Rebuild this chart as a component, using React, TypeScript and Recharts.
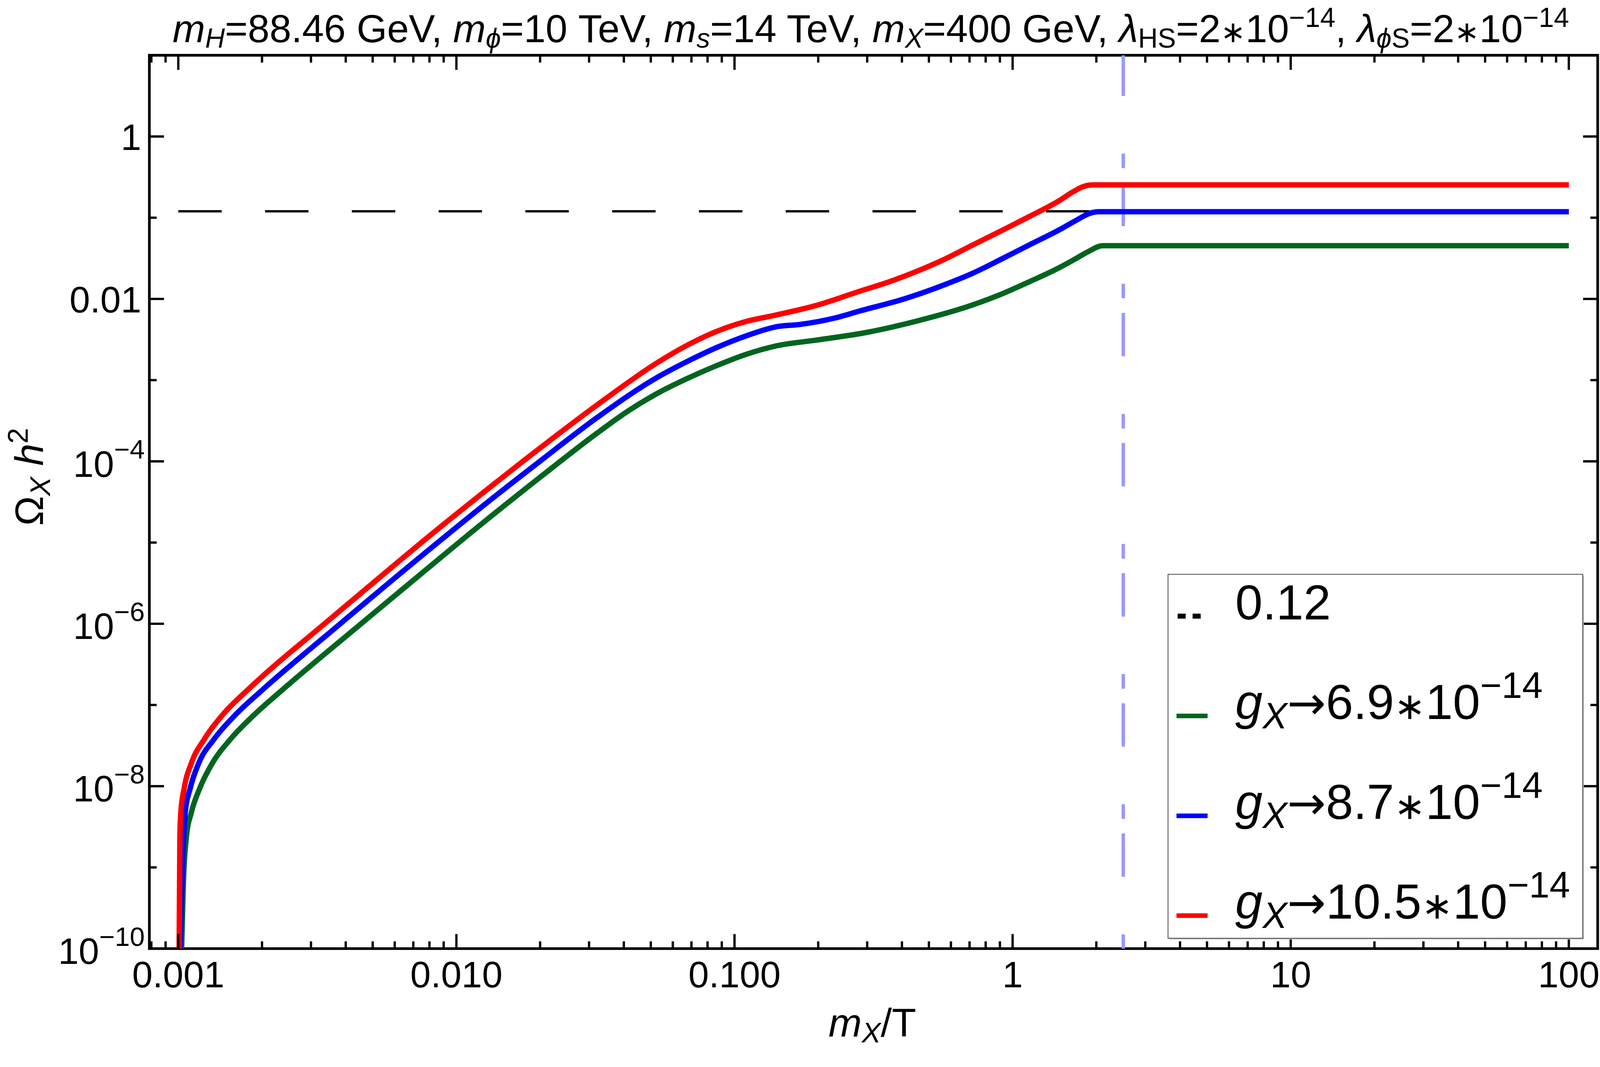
import React from 'react';
import { LineChart, Line, XAxis, YAxis, ReferenceArea, Legend } from 'recharts';

const FONT = '"Liberation Sans", Arial, Helvetica, sans-serif';
const SYMBOL_FONT = '"DejaVu Sans", sans-serif';

const W = 4167;
const H = 2732;
const PLOT = { left: 389, right: 4161, top: 144, bottom: 2471 };

// axes
const xDomain = [0.000787, 127];
const yDomain = [1e-10, 10];
const xMajor = [0.001, 0.01, 0.1, 1, 10, 100];
const xMajorLabels = ['0.001', '0.010', '0.100', '1', '10', '100'];
const xMinor = [
  0.0008, 0.0009,
  0.002, 0.003, 0.004, 0.005, 0.006, 0.007, 0.008, 0.009,
  0.02, 0.03, 0.04, 0.05, 0.06, 0.07, 0.08, 0.09,
  0.2, 0.3, 0.4, 0.5, 0.6, 0.7, 0.8, 0.9,
  2, 3, 4, 5, 6, 7, 8, 9,
  20, 30, 40, 50, 60, 70, 80, 90,
];
const yMajor = [1e-10, 1e-8, 1e-6, 1e-4, 0.01, 1];
const yMajorBase = ['10', '10', '10', '10', '0.01', '1'];
const yMajorExp = ['−10', '−8', '−6', '−4', '', ''];
const yMinor = [1e-9, 1e-7, 1e-5, 1e-3, 0.1];

// reference lines
const relicLine: [number, number][] = [[0.001, 0.12], [100, 0.12]];
const transitionLine: [number, number][] = [[2.5, 10], [2.5, 1e-10]];

// Omega_X h^2 vs m_X/T
const greenPts: [number, number][] = [
  [0.001028, 1e-10], [0.001042, 5.9e-10], [0.001069, 2.36e-9], [0.001114, 4.73e-9],
  [0.001195, 9.46e-9], [0.001323, 1.9e-8], [0.001541, 3.8e-8], [0.001877, 7.6e-8],
  [0.002359, 1.52e-7], [0.004315, 8.65e-7], [0.00759, 4.32e-6], [0.01233, 1.7e-5],
  [0.0201, 6.46e-5], [0.0327, 2.34e-4], [0.0417, 4.23e-4], [0.0532, 6.97e-4],
  [0.0679, 1.054e-3], [0.0867, 1.52e-3], [0.1107, 2.09e-3], [0.1413, 2.64e-3],
  [0.1986, 3.12e-3], [0.2999, 3.88e-3], [0.4508, 5.32e-3], [0.7194, 8.45e-3],
  [0.9183, 0.01159], [1.148, 0.01626], [1.462, 0.02399], [1.687, 0.03133],
  [1.866, 0.0381], [2.109, 0.0452], [100, 0.0452],
];
const bluePts: [number, number][] = [
  [0.001016, 1e-10], [0.001037, 1.26e-9], [0.001059, 4.73e-9], [0.001104, 9.46e-9],
  [0.001183, 1.9e-8], [0.001345, 3.8e-8], [0.001607, 7.6e-8], [0.002001, 1.52e-7],
  [0.003635, 8.65e-7], [0.00759, 7.11e-6], [0.01233, 2.75e-5], [0.0201, 1.02e-4],
  [0.0327, 3.63e-4], [0.0532, 1.1e-3], [0.0679, 1.71e-3], [0.0867, 2.54e-3],
  [0.1107, 3.53e-3], [0.1413, 4.54e-3], [0.1718, 4.85e-3], [0.2301, 5.83e-3],
  [0.2825, 7.11e-3], [0.4074, 0.01], [0.5636, 0.01476], [0.7194, 0.02075],
  [0.9183, 0.03133], [1.148, 0.04624], [1.462, 0.07], [1.722, 0.0959],
  [1.866, 0.111], [2.028, 0.1186], [100, 0.1186],
];
const redPts: [number, number][] = [
  [0.001007, 1e-10], [0.001013, 2.36e-9], [0.001021, 4.73e-9], [0.00105, 9.46e-9],
  [0.001113, 1.9e-8], [0.001241, 3.8e-8], [0.001445, 7.6e-8], [0.001771, 1.52e-7],
  [0.002046, 2.39e-7], [0.00319, 8.65e-7], [0.00583, 4.9e-6], [0.00759, 1.04e-5],
  [0.01233, 3.98e-5], [0.0201, 1.48e-4], [0.0327, 5.2e-4], [0.0532, 1.67e-3],
  [0.0679, 2.71e-3], [0.0867, 4.01e-3], [0.1107, 5.3e-3], [0.1413, 6.34e-3],
  [0.2, 8.45e-3], [0.2825, 0.01247], [0.3532, 0.01589], [0.4508, 0.02178],
  [0.5754, 0.03133], [0.7194, 0.04624], [0.9183, 0.07], [1.148, 0.1033],
  [1.462, 0.16], [1.652, 0.209], [1.795, 0.2415], [1.945, 0.2535], [100, 0.2535],
];

const gValues = ['6.9', '8.7', '10.5'];
const gColors = ['#00651f', '#0000ff', '#ff0000'];
const gSeries = [greenPts, bluePts, redPts];

const toPoints = (pts: [number, number][]) => pts.map(([x, y]) => ({ x, y }));

type Part = { t: string; it?: boolean; sub?: boolean; sup?: boolean; sym?: number };

function richText(parts: Part[], size: number, small: number, drop: number, rise: number) {
  let shift = 0;
  return parts.map((p, i) => {
    const target = p.sub ? drop : p.sup ? -rise : 0;
    const dy = target - shift;
    shift = target;
    const fs = p.sub || p.sup ? small : size;
    return (
      <tspan
        key={i}
        dy={dy}
        fontStyle={p.it ? 'italic' : 'normal'}
        fontSize={p.sym ? fs * p.sym : fs}
        fontFamily={p.sym ? SYMBOL_FONT : FONT}
      >
        {p.t}
      </tspan>
    );
  });
}

const titleParts: Part[] = [
  { t: 'm', it: true }, { t: 'H', it: true, sub: true }, { t: '=88.46 GeV, ' },
  { t: 'm', it: true }, { t: 'ϕ', it: true, sub: true }, { t: '=10 TeV, ' },
  { t: 'm', it: true }, { t: 's', it: true, sub: true }, { t: '=14 TeV, ' },
  { t: 'm', it: true }, { t: 'X', it: true, sub: true }, { t: '=400 GeV, ' },
  { t: 'λ', it: true }, { t: 'HS', sub: true }, { t: '=2' }, { t: '∗', sym: 0.76 },
  { t: '10' }, { t: '−14', sup: true }, { t: ', ' },
  { t: 'λ', it: true }, { t: 'ϕ', it: true, sub: true }, { t: 'S', sub: true }, { t: '=2' },
  { t: '∗', sym: 0.76 }, { t: '10' }, { t: '−14', sup: true },
];

const gParts = (v: string): Part[] => [
  { t: 'g', it: true }, { t: 'X', it: true, sub: true }, { t: '→', sym: 0.94 },
  { t: v }, { t: '∗', sym: 0.76 }, { t: '10' }, { t: '−14', sup: true },
];

const XTick = (props: any) => {
  const { x, y, payload } = props;
  const i = xMajor.indexOf(payload.value);
  const len = i >= 0 ? 38 : 19;
  return (
    <g>
      <line x1={x} x2={x} y1={y} y2={y - len} stroke="#000" strokeWidth={6} />
      <line x1={x} x2={x} y1={PLOT.top} y2={PLOT.top + len} stroke="#000" strokeWidth={6} />
      {i >= 0 && (
        <text x={x} y={y + 101} textAnchor="middle" fontSize={96} fontFamily={FONT} fill="#000">
          {xMajorLabels[i]}
        </text>
      )}
    </g>
  );
};

const YTick = (props: any) => {
  const { x, y, payload } = props;
  const i = yMajor.indexOf(payload.value);
  const len = i >= 0 ? 38 : 19;
  return (
    <g>
      <line x1={x} x2={x + len} y1={y} y2={y} stroke="#000" strokeWidth={6} />
      <line x1={PLOT.right} x2={PLOT.right - len} y1={y} y2={y} stroke="#000" strokeWidth={6} />
      {i >= 0 && yMajorExp[i] === '' && (
        <text x={x - 21} y={y + 35} textAnchor="end" fontSize={96} fontFamily={FONT} fill="#000">
          {yMajorBase[i]}
        </text>
      )}
      {i >= 0 && yMajorExp[i] !== '' && (
        <text x={x - 12} y={y + 40} textAnchor="end" fontSize={96} fontFamily={FONT} fill="#000">
          {yMajorBase[i]}
          <tspan dy={-47} fontSize={70}>{yMajorExp[i]}</tspan>
        </text>
      )}
    </g>
  );
};

const LegendBox = () => (
  <svg width={1082} height={950} style={{ display: 'block', overflow: 'visible' }}>
    <rect x={4} y={4} width={1080} height={948} fill="#bbb" />
    <rect x={1} y={1} width={1080} height={948} fill="#fff" stroke="#444" strokeWidth={2} />
    <line x1={26} x2={86} y1={110} y2={110} stroke="#000" strokeWidth={13} strokeDasharray="21 18" />
    <text x={176} y={119} fontSize={128} fontFamily={FONT} fill="#000">0.12</text>
    {gValues.map((v, i) => (
      <g key={v}>
        <line x1={23} x2={104} y1={370 + i * 260} y2={370 + i * 260} stroke={gColors[i]} strokeWidth={12} />
        <text x={176} y={378 + i * 260} fill="#000" fontFamily={FONT}>
          {richText(gParts(v), 128, 96, 24, 55)}
        </text>
      </g>
    ))}
  </svg>
);

export default function App() {
  // fit the fixed-size figure into the viewport if it is smaller
  const [scale, setScale] = React.useState(1);
  React.useLayoutEffect(() => {
    const s = Math.min(window.innerWidth / W, window.innerHeight / H, 1);
    setScale(s);
  }, []);

  return (
    <div
      style={{
        position: 'absolute',
        left: 0,
        top: 0,
        width: W,
        height: H,
        background: '#fff',
        transform: `scale(${scale})`,
        transformOrigin: '0 0',
      }}
    >
      <LineChart width={W} height={H} margin={{ top: PLOT.top, right: W - PLOT.right, bottom: 0, left: 0 }}>
        <XAxis
          dataKey="x"
          type="number"
          scale="log"
          domain={xDomain}
          allowDataOverflow
          ticks={[...xMinor, ...xMajor]}
          interval={0}
          tick={XTick}
          tickLine={false}
          axisLine={false}
          tickSize={0}
          tickMargin={0}
          height={H - PLOT.bottom}
        />
        <YAxis
          type="number"
          scale="log"
          domain={yDomain}
          allowDataOverflow
          ticks={[...yMinor, ...yMajor]}
          interval={0}
          tick={YTick}
          tickLine={false}
          axisLine={false}
          tickSize={0}
          tickMargin={0}
          width={PLOT.left}
        />
        <Line
          data={toPoints(transitionLine)}
          dataKey="y"
          type="linear"
          stroke="#9999ff"
          strokeWidth={9}
          strokeDasharray="113 150 38 38"
          strokeDashoffset={7}
          dot={false}
          activeDot={false}
          isAnimationActive={false}
          legendType="none"
        />
        <Line
          data={toPoints(relicLine)}
          dataKey="y"
          name="0.12"
          type="linear"
          stroke="#000"
          strokeWidth={6}
          strokeDasharray="113 113"
          dot={false}
          activeDot={false}
          isAnimationActive={false}
        />
        {gSeries.map((pts, i) => (
          <Line
            key={gValues[i]}
            data={toPoints(pts)}
            dataKey="y"
            name={gValues[i]}
            type="monotone"
            stroke={gColors[i]}
            strokeWidth={14}
            dot={false}
            activeDot={false}
            isAnimationActive={false}
          />
        ))}
        <ReferenceArea
          x1={xDomain[0]}
          x2={xDomain[1]}
          y1={yDomain[0]}
          y2={yDomain[1]}
          fill="none"
          stroke="#000"
          strokeWidth={7}
          ifOverflow="visible"
        />
        <Legend
          layout="vertical"
          align="center"
          verticalAlign="middle"
          content={() => <LegendBox />}
          wrapperStyle={{ left: 3041, top: 1495, width: 1082, height: 950 }}
        />
      </LineChart>
      <svg
        width={W}
        height={H}
        style={{ position: 'absolute', left: 0, top: 0, pointerEvents: 'none' }}
      >
        <text x={2268} y={110} textAnchor="middle" fill="#000" fontFamily={FONT}>
          {richText(titleParts, 102, 71, 14, 40)}
        </text>
        <text x={2272} y={2700} textAnchor="middle" fill="#000" fontFamily={FONT}>
          {richText([{ t: 'm', it: true }, { t: 'X', it: true, sub: true }, { t: '/T' }], 104, 74, 15, 0)}
        </text>
        <text
          x={112}
          y={1242}
          textAnchor="middle"
          fill="#000"
          fontFamily={FONT}
          transform="rotate(-90 112 1242)"
        >
          {richText([{ t: 'Ω' }, { t: 'X', it: true, sub: true }, { t: ' h', it: true }, { t: '2', sup: true }], 104, 74, 18, 40)}
        </text>
      </svg>
    </div>
  );
}
